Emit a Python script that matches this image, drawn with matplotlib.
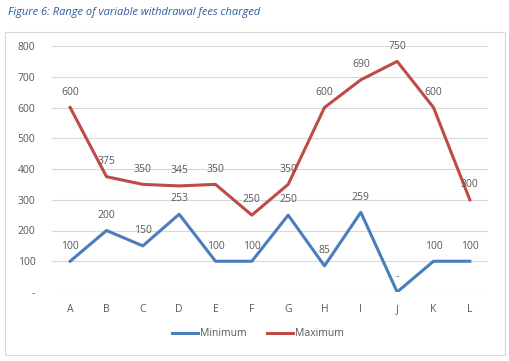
import matplotlib
matplotlib.use("Agg")
import matplotlib.pyplot as plt
from matplotlib.patches import Rectangle

# ── data ─────────────────────────────────────────────
categories = ["A", "B", "C", "D", "E", "F", "G", "H", "I", "J", "K", "L"]
minimum = [100, 200, 150, 253, 100, 100, 250, 85, 259, 0, 100, 100]
maximum = [600, 375, 350, 345, 350, 250, 350, 600, 690, 750, 600, 300]
y_ticks = [0, 100, 200, 300, 400, 500, 600, 700, 800]

BLUE = "#4A7EBB"
RED = "#BE4B48"
TXT = "#595959"

plt.rcParams["font.family"] = ["Open Sans", "DejaVu Sans"]

fig = plt.figure(figsize=(5.09, 3.61), dpi=100)
fig.patch.set_facecolor("white")

# chart border
fig.add_artist(Rectangle((5 / 509, 1 - 355 / 361), 500 / 509, 323 / 361,
                         transform=fig.transFigure, fill=False,
                         edgecolor="#D9D9D9", linewidth=0.8))

fig.text(8 / 509, 1 - 13 / 361, "Figure 6: Range of variable withdrawal fees charged",
         color="#2E5C9A", fontsize=8, style="italic", va="center", ha="left")

ax = fig.add_axes([52 / 509, 1 - 292 / 361, 436 / 509, 246 / 361])
x = list(range(len(categories)))
ax.plot(x, minimum, color=BLUE, linewidth=2.2, label="Minimum")
ax.plot(x, maximum, color=RED, linewidth=2.2, label="Maximum")

# data labels above each point
for xi, v in zip(x, minimum):
    ax.annotate("-" if v == 0 else str(v), (xi, v), xytext=(0, 7),
                textcoords="offset points", ha="center", va="bottom",
                fontsize=7.5, color=TXT)
for xi, v in zip(x, maximum):
    ax.annotate(str(v), (xi, v), xytext=(0, 7),
                textcoords="offset points", ha="center", va="bottom",
                fontsize=7.5, color=TXT)

ax.set_xlim(-0.5, len(categories) - 0.5)
ax.set_ylim(0, 800)
ax.set_yticks(y_ticks)
ax.set_yticklabels(["-" if t == 0 else str(t) for t in y_ticks])
ax.set_xticks(x)
ax.set_xticklabels(categories)
ax.tick_params(length=0, labelsize=7.5, colors=TXT)
ax.tick_params(axis="y", pad=12)
ax.tick_params(axis="x", pad=9)
ax.grid(axis="y", color="#D9D9D9", linewidth=0.8)
ax.set_axisbelow(True)
for s in ax.spines.values():
    s.set_visible(False)

leg = fig.legend(loc="center", bbox_to_anchor=(258 / 509, 1 - 334 / 361), ncol=2,
                 frameon=False, fontsize=7.5, handlelength=2.5, handletextpad=0.2,
                 columnspacing=2.0)
for t in leg.get_texts():
    t.set_color(TXT)

fig.savefig("out.png", dpi=100)
